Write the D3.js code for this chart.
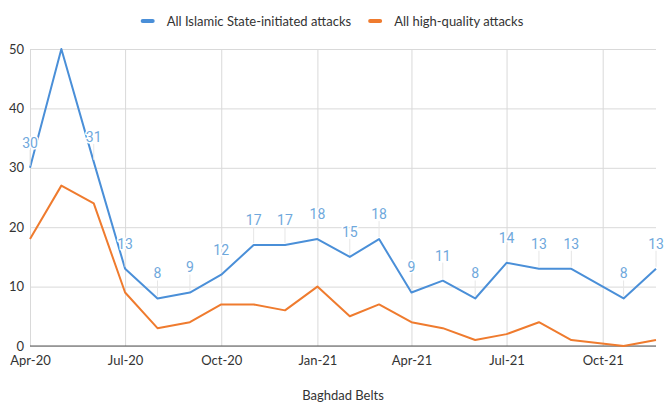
<!DOCTYPE html>
<html>
<head>
<meta charset="utf-8">
<script src="https://cdn.jsdelivr.net/npm/d3@7/dist/d3.min.js"></script>
<style>
  html, body { margin: 0; padding: 0; background: #fff; }
  svg { display: block; }
  .lbl { font-family: Lato, "Open Sans", sans-serif; font-size: 13px; fill: #333; }
  .dl { font-family: Roboto, sans-serif; font-size: 14px; fill: #6fa8dc;
        stroke: #fff; stroke-width: 3px; paint-order: stroke; stroke-linejoin: round; }
</style>
</head>
<body>
<svg id="chart" width="665" height="402"></svg>
<script>
// Monthly observations, Baghdad Belts
const dates = [
  "2020-04-01", "2020-05-01", "2020-06-01", "2020-07-01", "2020-08-01", "2020-09-01",
  "2020-10-01", "2020-11-01", "2020-12-01", "2021-01-01", "2021-02-01", "2021-03-01",
  "2021-04-01", "2021-05-01", "2021-06-01", "2021-07-01", "2021-08-01", "2021-09-01",
  "2021-10-21", "2021-11-21"
];
const islamicStateAttacks = [30, 50, 31, 13, 8, 9, 12, 17, 17, 18, 15, 18, 9, 11, 8, 14, 13, 13, 8, 13];
const highQualityAttacks  = [18, 27, 24, 9, 3, 4, 7, 7, 6, 10, 5, 7, 4, 3, 1, 2, 4, 1, 0, 1];
// Value labels shown on the blue series (null = no label)
const islamicStateLabels  = [30, null, 31, 13, 8, 9, 12, 17, 17, 18, 15, 18, 9, 11, 8, 14, 13, 13, 8, 13];

const tickDates  = ["2020-04-01", "2020-07-01", "2020-10-01", "2021-01-01", "2021-04-01", "2021-07-01", "2021-10-01"];
const tickLabels = ["Apr-20", "Jul-20", "Oct-20", "Jan-21", "Apr-21", "Jul-21", "Oct-21"];
const yTicks = [0, 10, 20, 30, 40, 50];

const seriesNames  = ["All Islamic State-initiated attacks", "All high-quality attacks"];
const seriesColors = ["#4a8fd8", "#ef7b2e"];

const parse = d3.utcParse("%Y-%m-%d");
const xs = dates.map(parse);

const svg = d3.select("#chart");
const plotLeft = 30, plotRight = 656, plotTop = 49, plotBottom = 346;

const x = d3.scaleUtc().domain([xs[0], xs[xs.length - 1]]).range([plotLeft, plotRight]);
const y = d3.scaleLinear().domain([0, 50]).range([plotBottom, plotTop]);

// Horizontal gridlines + y labels
const yAxis = d3.axisLeft(y).tickValues(yTicks).tickSize(-(plotRight - plotLeft)).tickPadding(6);
const gy = svg.append("g").attr("transform", `translate(${plotLeft},0)`).call(yAxis);
gy.select(".domain").remove();
gy.selectAll(".tick line").attr("stroke", "#d9d9d9");
gy.selectAll(".tick text").attr("class", "lbl").attr("x", -6);

// Vertical gridlines + x labels
const tickXs = tickDates.map(parse);
const xAxis = d3.axisBottom(x).tickValues(tickXs)
  .tickFormat((d, i) => tickLabels[i]).tickSize(-(plotBottom - plotTop)).tickPadding(10);
const gx = svg.append("g").attr("transform", `translate(0,${plotBottom})`).call(xAxis);
gx.select(".domain").remove();
gx.selectAll(".tick line").attr("stroke", "#d9d9d9");
gx.selectAll(".tick text").attr("class", "lbl");

// Baseline
svg.append("line").attr("x1", plotLeft).attr("x2", plotRight)
  .attr("y1", y(0)).attr("y2", y(0)).attr("stroke", "#555").attr("stroke-width", 1);

// Series lines
const line = d3.line().x((d, i) => x(xs[i])).y(d => y(d));
[islamicStateAttacks, highQualityAttacks].forEach((vals, k) => {
  svg.append("path").datum(vals)
    .attr("fill", "none").attr("stroke", seriesColors[k])
    .attr("stroke-width", 2).attr("stroke-linejoin", "round")
    .attr("d", line);
});

// Value labels with leader lines
const labelOffset = 25;
const labelled = islamicStateLabels.map((v, i) => ({ v, i })).filter(d => d.v !== null);
svg.append("g").selectAll("line").data(labelled).join("line")
  .attr("x1", d => x(xs[d.i])).attr("x2", d => x(xs[d.i]))
  .attr("y1", d => y(islamicStateAttacks[d.i]) - labelOffset + 7)
  .attr("y2", d => y(islamicStateAttacks[d.i]) - 2)
  .attr("stroke", "#e6e6e6").attr("stroke-width", 1);
svg.append("g").selectAll("text").data(labelled).join("text")
  .attr("class", "dl")
  .attr("x", d => x(xs[d.i]))
  .attr("y", d => y(islamicStateAttacks[d.i]) - labelOffset)
  .attr("dy", "0.35em").attr("text-anchor", "middle")
  .text(d => d.v);

// Legend, centred across the top
const legend = svg.append("g");
let cx = 0;
seriesNames.forEach((name, k) => {
  const g = legend.append("g");
  g.append("rect").attr("x", 0).attr("y", -2).attr("width", 14).attr("height", 4)
    .attr("rx", 2).attr("fill", seriesColors[k]);
  const t = g.append("text").attr("class", "lbl").attr("x", 26).attr("y", 0)
    .attr("dy", "0.35em").text(name);
  const w = 26 + t.node().getComputedTextLength();
  g.attr("transform", `translate(${cx},0)`);
  cx += w + 17;
});
const totalW = cx - 17;
legend.attr("transform", `translate(${332 - totalW / 2},21)`);

// Axis title
svg.append("text").attr("class", "lbl").attr("x", 343).attr("y", 395)
  .attr("text-anchor", "middle").attr("dy", "0.35em").text("Baghdad Belts");
</script>
</body>
</html>
